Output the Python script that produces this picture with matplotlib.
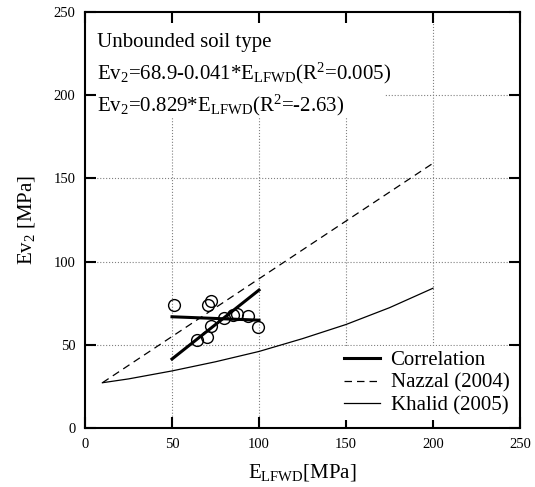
import matplotlib
matplotlib.use('Agg')
import matplotlib.pyplot as plt
from matplotlib.patches import Rectangle

plt.rcParams['font.family'] = ['Liberation Serif', 'DejaVu Serif']
plt.rcParams['mathtext.fontset'] = 'custom'
plt.rcParams['mathtext.rm'] = 'Liberation Serif'
plt.rcParams['mathtext.it'] = 'Liberation Serif:italic'

# measured points (unbounded soil)
e_lfwd = [51.3, 70.9, 72.4, 80.1, 84.9, 87.6, 93.9, 99.6, 72.4, 64.5, 70.3]
ev2 = [73.9, 73.9, 76.3, 66.3, 67.9, 68.5, 67.5, 60.9, 61.3, 52.9, 54.5]

# correlation lines
corr_x = [50, 100]
corr1_y = [66.85, 64.8]   # 68.9-0.041*E
corr2_y = [41.45, 82.9]   # 0.829*E

# Nazzal (2004)
naz_x = [10, 200]
naz_y = [27.2, 159.1]

# Khalid (2005)
kha_x = [10, 25, 50, 75, 100, 125, 150, 175, 200]
kha_y = [27.2, 29.5, 34.3, 39.8, 46.0, 53.7, 62.2, 72.3, 84.0]

ticks = [0, 50, 100, 150, 200, 250]

fig = plt.figure(figsize=(5.35, 4.87), dpi=100)
ax = fig.add_axes([85/535, 1-428/487, 435/535, 416/487])

for t in ticks[1:-1]:
    ax.axvline(t, color='grey', ls=':', lw=0.8, zorder=0)
    ax.axhline(t, color='grey', ls=':', lw=0.8, zorder=0)

ax.add_patch(Rectangle((0, 186), 172, 64, facecolor='white', edgecolor='none', zorder=1))

l1, = ax.plot(corr_x, corr1_y, color='black', lw=2.2, zorder=3, label='Correlation')
ax.plot(corr_x, corr2_y, color='black', lw=2.2, zorder=3)
l2, = ax.plot(naz_x, naz_y, color='black', lw=0.9, ls=(0, (6, 4)), zorder=2, label='Nazzal (2004)')
l3, = ax.plot(kha_x, kha_y, color='black', lw=0.9, zorder=2, label='Khalid (2005)')
ax.plot(e_lfwd, ev2, 'o', mfc='none', mec='black', mew=1.0, ms=8.5, zorder=4)

ax.text(6.9, 229, 'Unbounded soil type', fontsize=15, zorder=5)
ax.text(6.9, 209.5, r'Ev$_2$=68.9-0.041*E$_{\mathrm{LFWD}}$(R$^2$=0.005)', fontsize=15, zorder=5)
ax.text(6.9, 190.5, r'Ev$_2$=0.829*E$_{\mathrm{LFWD}}$(R$^2$=-2.63)', fontsize=15, zorder=5)

leg = ax.legend(handles=[l1, l2, l3], loc='lower right', bbox_to_anchor=(0.985, 0.02),
                fontsize=15, frameon=True, fancybox=False, framealpha=1,
                borderaxespad=0, borderpad=0.2, handlelength=1.75,
                handletextpad=0.5, labelspacing=0.15)
leg.get_frame().set_edgecolor('none')
leg.get_frame().set_facecolor('white')

ax.set_xlim(0, 250)
ax.set_ylim(0, 250)
ax.set_xticks(ticks)
ax.set_yticks(ticks)
ax.tick_params(direction='in', length=8, width=1.5, top=True, right=True,
               labelsize=10.5, pad=7)
for s in ax.spines.values():
    s.set_linewidth(1.5)

ax.set_xlabel(r'E$_{\mathrm{LFWD}}$[MPa]', fontsize=15, labelpad=8)
ax.set_ylabel(r'Ev$_2$ [MPa]', fontsize=15, labelpad=12)

fig.savefig('out.png', dpi=100)
